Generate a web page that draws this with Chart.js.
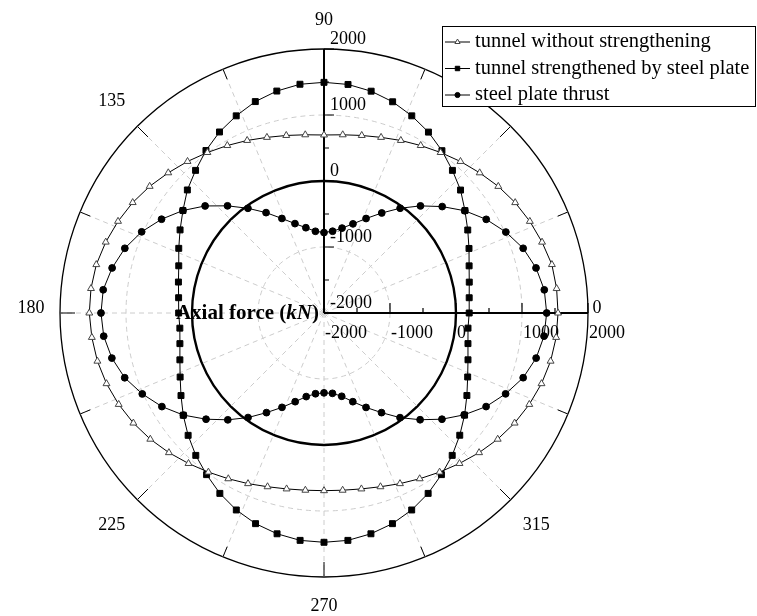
<!DOCTYPE html>
<html>
<head>
<meta charset="utf-8">
<script src="https://cdn.jsdelivr.net/npm/chart.js@4.4.1/dist/chart.umd.min.js"></script>
<style>
  html, body { margin: 0; padding: 0; background: #fff; }
  #wrap { width: 757px; height: 616px; position: relative; }
</style>
</head>
<body>
<div id="wrap"><canvas id="polarChart"></canvas></div>
<script>
// angle of each measuring point, degrees, anticlockwise from the right
var angles = [0, 6, 12, 18, 24, 30, 36, 42, 48, 54, 60, 66, 72, 78, 84,
              90, 96, 102, 108, 114, 120, 126, 132, 138, 144, 150, 156, 162, 168, 174,
              180, 186, 192, 198, 204, 210, 216, 222, 228, 234, 240, 246, 252, 258, 264,
              270, 276, 282, 288, 294, 300, 306, 312, 318, 324, 330, 336, 342, 348, 354];

var seriesNames = ['tunnel without strengthening', 'tunnel strengthened by steel plate', 'steel plate thrust'];

// axial force, kN
var unstrengthened = [1546, 1544, 1530, 1474, 1414, 1345, 1264, 1174, 1090, 1006, 930, 862, 798, 750, 715,
                      697, 715, 750, 798, 862, 930, 1006, 1090, 1175, 1265, 1347, 1416, 1477, 1527, 1550,
                      1556, 1537, 1510, 1465, 1405, 1335, 1253, 1162, 1068, 980, 900, 830, 768, 725, 700,
                      692, 700, 725, 768, 830, 900, 980, 1068, 1162, 1253, 1335, 1405, 1465, 1510, 1537];

var strengthened = [200, 212, 250, 312, 405, 515, 640, 784, 908, 1040, 1165, 1270, 1365, 1436, 1482,
                    1495, 1485, 1438, 1368, 1270, 1167, 1043, 908, 786, 642, 518, 409, 314, 255, 215,
                    202, 196, 232, 296, 386, 502, 636, 770, 903, 1027, 1156, 1267, 1356, 1420, 1464,
                    1474, 1464, 1420, 1356, 1267, 1156, 1027, 903, 768, 633, 500, 383, 294, 230, 194];

var plateThrust = [1374, 1356, 1284, 1173, 1016, 838, 636, 410, 184, -38, -250, -433, -580, -685, -754,
                   -781, -755, -679, -576, -432, -244, -39, 185, 424, 642, 842, 1024, 1173, 1282, 1364,
                   1379, 1356, 1286, 1175, 1014, 836, 632, 405, 178, -42, -257, -435, -587, -705, -770,
                   -790, -776, -710, -587, -434, -257, -40, 176, 405, 625, 836, 1012, 1173, 1286, 1352];

var radialTicks = [-2000, -1000, 0, 1000, 2000];
var angleTicks = [0, 45, 90, 135, 180, 225, 270, 315];

var serif = "'Liberation Serif', 'Times New Roman', serif";

// radar runs clockwise from startAngle, the data runs anticlockwise
function toChartOrder(arr) {
  var out = [];
  for (var k = 0; k < arr.length; k++) out.push(arr[(arr.length - k) % arr.length]);
  return out;
}

var styles = [
  { pointStyle: 'triangle', pointRadius: 4, pointBackgroundColor: '#fff', pointBorderColor: '#444' },
  { pointStyle: 'rect', pointRadius: 4.2, pointBackgroundColor: '#000', pointBorderColor: '#000' },
  { pointStyle: 'circle', pointRadius: 3.4, pointBackgroundColor: '#000', pointBorderColor: '#000' }
];

var polarDecor = {
  id: 'polarDecor',
  beforeDatasetsDraw: function(chart) {
    var s = chart.scales.r, ctx = chart.ctx;
    var cx = s.xCenter, cy = s.yCenter, R = s.drawingArea;
    var a, t, i;
    ctx.save();

    // dashed spokes
    ctx.strokeStyle = '#cccccc';
    ctx.lineWidth = 1;
    ctx.setLineDash([5, 4]);
    for (a = 0; a < 360; a += 22.5) {
      if (a === 0 || a === 90) continue;
      t = a * Math.PI / 180;
      ctx.beginPath();
      ctx.moveTo(cx, cy);
      ctx.lineTo(cx + R * Math.cos(t), cy - R * Math.sin(t));
      ctx.stroke();
    }
    ctx.setLineDash([]);

    // ticks on the outer circle, pointing in
    ctx.strokeStyle = '#000';
    ctx.lineWidth = 1;
    for (a = 0; a < 360; a += 22.5) {
      if (a === 0 || a === 90) continue;
      t = a * Math.PI / 180;
      var len = a % 45 === 0 ? 15 : 11;
      ctx.beginPath();
      ctx.moveTo(cx + R * Math.cos(t), cy - R * Math.sin(t));
      ctx.lineTo(cx + (R - len) * Math.cos(t), cy - (R - len) * Math.sin(t));
      ctx.stroke();
    }

    // the two radial axes
    ctx.lineWidth = 2;
    ctx.beginPath();
    ctx.moveTo(cx, cy); ctx.lineTo(cx, cy - R);
    ctx.moveTo(cx, cy); ctx.lineTo(cx + R, cy);
    ctx.stroke();

    ctx.lineWidth = 1.2;
    for (i = 0; i < radialTicks.length; i++) {
      var d = s.getDistanceFromCenterForValue(radialTicks[i]);
      ctx.beginPath();
      ctx.moveTo(cx, cy - d); ctx.lineTo(cx + 10, cy - d);
      ctx.moveTo(cx + d, cy); ctx.lineTo(cx + d, cy - 10);
      ctx.stroke();
      if (i < radialTicks.length - 1) {
        var dm = s.getDistanceFromCenterForValue((radialTicks[i] + radialTicks[i + 1]) / 2);
        ctx.beginPath();
        ctx.moveTo(cx, cy - dm); ctx.lineTo(cx + 5, cy - dm);
        ctx.moveTo(cx + dm, cy); ctx.lineTo(cx + dm, cy - 5);
        ctx.stroke();
      }
    }

    ctx.fillStyle = '#000';
    ctx.font = '18px ' + serif;
    ctx.textAlign = 'left';
    ctx.textBaseline = 'alphabetic';
    for (i = 0; i < radialTicks.length; i++) {
      var dd = s.getDistanceFromCenterForValue(radialTicks[i]);
      ctx.fillText(String(radialTicks[i]), cx + 6, cy - dd - 5);
      ctx.fillText(String(radialTicks[i]), cx + dd + 1, cy + 25);
    }

    // angle labels
    ctx.textAlign = 'center';
    ctx.textBaseline = 'middle';
    for (i = 0; i < angleTicks.length; i++) {
      a = angleTicks[i];
      t = a * Math.PI / 180;
      var dist = a % 90 !== 0 ? 300 : (a === 0 ? 273 : 293);
      var shift = (a === 0 || a === 180) ? -5 : 0;
      ctx.fillText(String(a), cx + dist * Math.cos(t), cy - dist * Math.sin(t) + shift);
    }

    // axis title, left of the centre
    var bold = 'bold 21px ' + serif, boldIt = 'italic bold 21px ' + serif;
    var parts = [['Axial force (', bold], ['kN', boldIt], [')', bold]];
    var total = 0;
    parts.forEach(function(p) { ctx.font = p[1]; total += ctx.measureText(p[0]).width; });
    var x = cx - 5 - total;
    ctx.textAlign = 'left';
    ctx.textBaseline = 'alphabetic';
    parts.forEach(function(p) { ctx.font = p[1]; ctx.fillText(p[0], x, cy + 6); x += ctx.measureText(p[0]).width; });

    ctx.restore();
  },
  afterDraw: function(chart) {
    var ctx = chart.ctx;
    ctx.save();
    var bx = 442.5, by = 26.5, bw = 313, bh = 80;
    ctx.fillStyle = '#fff';
    ctx.fillRect(bx, by, bw, bh);
    ctx.strokeStyle = '#000';
    ctx.lineWidth = 1;
    ctx.strokeRect(bx, by, bw, bh);
    ctx.font = '20.5px ' + serif;
    ctx.textAlign = 'left';
    ctx.textBaseline = 'middle';
    for (var i = 0; i < seriesNames.length; i++) {
      var y = 42 + i * 26.5;
      ctx.beginPath();
      ctx.moveTo(445, y); ctx.lineTo(470, y);
      ctx.strokeStyle = '#000';
      ctx.stroke();
      var st = styles[i];
      ctx.fillStyle = st.pointBackgroundColor;
      ctx.strokeStyle = st.pointBorderColor;
      Chart.helpers.drawPoint(ctx, { pointStyle: st.pointStyle, radius: st.pointRadius * 0.75, rotation: 0, borderWidth: 1 }, 457.5, y);
      ctx.fillStyle = '#000';
      ctx.fillText(seriesNames[i], 475, y);
    }
    ctx.restore();
  }
};

var allSeries = [unstrengthened, strengthened, plateThrust];
var datasets = allSeries.map(function(vals, i) {
  return Object.assign({
    label: seriesNames[i],
    data: toChartOrder(vals),
    borderColor: '#000',
    borderWidth: 1,
    fill: false,
    tension: 0,
    pointBorderWidth: 1
  }, styles[i]);
});

var ctx1 = document.getElementById('polarChart').getContext('2d');
new Chart(ctx1, {
  type: 'radar',
  data: { labels: toChartOrder(angles), datasets: datasets },
  options: {
    responsive: true,
    maintainAspectRatio: false,
    animation: false,
    layout: { padding: { left: 60, right: 169, top: 49, bottom: 39 } },
    plugins: { legend: { display: false }, tooltip: { enabled: false } },
    scales: {
      r: {
        min: -2000,
        max: 2000,
        startAngle: 90,
        ticks: { stepSize: 1000, display: false },
        pointLabels: { display: false },
        angleLines: { display: false },
        grid: {
          circular: true,
          color: function(c) { return (c.tick && (c.tick.value === 0 || c.tick.value === 2000)) ? '#000' : '#cccccc'; },
          lineWidth: function(c) { return c.tick && c.tick.value === 0 ? 2.4 : (c.tick && c.tick.value === 2000 ? 1.3 : 1); }
        },
        border: {
          dash: function(c) { return (c.tick && (c.tick.value === 0 || c.tick.value === 2000)) ? [] : [5, 4]; }
        }
      }
    }
  },
  plugins: [polarDecor]
});
</script>
</body>
</html>
